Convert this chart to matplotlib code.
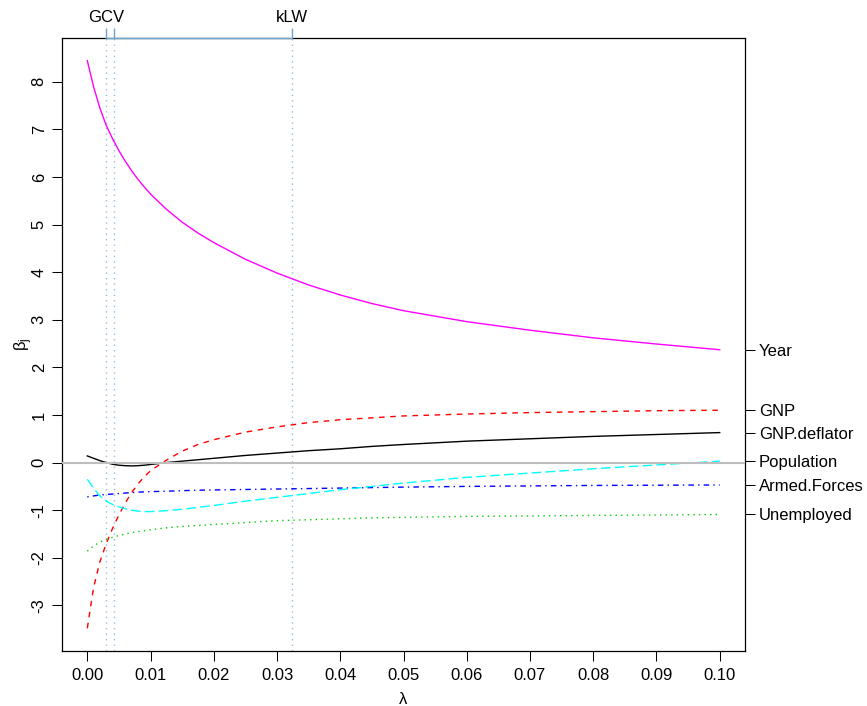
import matplotlib
matplotlib.use("Agg")
import matplotlib.pyplot as plt
import numpy as np

plt.rcParams['font.family'] = ['Liberation Sans', 'DejaVu Sans']
plt.rcParams['axes.unicode_minus'] = False
plt.rcParams['mathtext.fontset'] = 'custom'
plt.rcParams['mathtext.rm'] = 'Liberation Sans'
plt.rcParams['mathtext.it'] = 'Liberation Sans'

# ---- data ----
lam = [0.0, 0.001, 0.002, 0.003, 0.004, 0.005, 0.006, 0.007, 0.008, 0.009, 0.010,
       0.0125, 0.015, 0.0175, 0.02, 0.025, 0.03, 0.035, 0.04, 0.045, 0.05,
       0.06, 0.07, 0.08, 0.09, 0.10]

gnp_deflator = [0.14, 0.09, 0.04, 0.00, -0.035, -0.055, -0.065, -0.07, -0.065, -0.055, -0.04,
                0.00, 0.03, 0.06, 0.09, 0.15, 0.20, 0.25, 0.29, 0.34, 0.38,
                0.45, 0.50, 0.55, 0.59, 0.63]
gnp = [-3.48, -2.62, -2.08, -1.70, -1.38, -1.10, -0.85, -0.63, -0.45, -0.30, -0.17,
       0.05, 0.24, 0.38, 0.48, 0.64, 0.75, 0.84, 0.90, 0.94, 0.98,
       1.02, 1.05, 1.07, 1.09, 1.10]
unemployed = [-1.86, -1.75, -1.67, -1.61, -1.57, -1.53, -1.50, -1.47, -1.45, -1.43, -1.41,
              -1.37, -1.34, -1.32, -1.30, -1.26, -1.22, -1.20, -1.18, -1.16, -1.15,
              -1.13, -1.12, -1.11, -1.10, -1.09]
armed_forces = [-0.72, -0.70, -0.68, -0.67, -0.66, -0.65, -0.64, -0.63, -0.62, -0.615, -0.61,
                -0.60, -0.59, -0.58, -0.575, -0.565, -0.555, -0.545, -0.535, -0.525, -0.515,
                -0.50, -0.49, -0.48, -0.475, -0.47]
population = [-0.35, -0.54, -0.70, -0.81, -0.88, -0.93, -0.97, -1.00, -1.02, -1.03, -1.03,
              -1.01, -0.98, -0.94, -0.90, -0.81, -0.73, -0.65, -0.57, -0.50, -0.43,
              -0.31, -0.22, -0.13, -0.05, 0.03]
year = [8.44, 7.89, 7.44, 7.08, 6.80, 6.55, 6.33, 6.13, 5.95, 5.79, 5.64,
        5.32, 5.05, 4.82, 4.62, 4.27, 3.98, 3.73, 3.52, 3.34, 3.19,
        2.96, 2.78, 2.62, 2.49, 2.37]

series_names = ["GNP.deflator", "GNP", "Unemployed", "Armed.Forces", "Population", "Year"]
series_vals = [gnp_deflator, gnp, unemployed, armed_forces, population, year]
series_cols = ["#000000", "#FF0000", "#00CD00", "#0000FF", "#00FFFF", "#FF00FF"]
series_ls = ["-", (0, (4, 4)), (0, (1, 3)), (0, (1, 3, 4, 3)), (0, (7, 3)), "-"]

crit_lambda = [0.0030, 0.0042, 0.0323]
crit_labels = ["GCV", "", "kLW"]

x_ticks = [0.00, 0.01, 0.02, 0.03, 0.04, 0.05, 0.06, 0.07, 0.08, 0.09, 0.10]
y_ticks = [-3, -2, -1, 0, 1, 2, 3, 4, 5, 6, 7, 8]

# ---- figure ----
W, H = 867, 706
fig = plt.figure(figsize=(W / 100, H / 100), dpi=100)
L, R, T, B = 62, 745, 38, 651
ax = fig.add_axes([L / W, 1 - B / H, (R - L) / W, (B - T) / H])

fs = 12
for vals, col, ls in zip(series_vals, series_cols, series_ls):
    ax.plot(lam, vals, color=col, linestyle=ls, lw=1.0, zorder=3)

ax.axhline(0, color="#BEBEBE", lw=1.5, zorder=4)
for c in crit_lambda:
    ax.axvline(c, color="#8FBEDF", lw=1.0, linestyle=(0, (1, 3)), zorder=2)

allv = np.concatenate([np.asarray(v) for v in series_vals])
ymin, ymax = allv.min(), allv.max()
xr = max(lam) - min(lam)
yr = ymax - ymin
ax.set_xlim(min(lam) - 0.04 * xr, max(lam) + 0.04 * xr)
ax.set_ylim(ymin - 0.04 * yr, ymax + 0.04 * yr)

ax.set_xticks(x_ticks)
ax.set_xticklabels([f"{v:.2f}" for v in x_ticks])
ax.set_yticks(y_ticks)
ax.set_yticklabels([str(v) for v in y_ticks], rotation=90, va="center")
ax.tick_params(axis="both", direction="out", length=7, width=0.75, labelsize=fs)
ax.tick_params(axis="x", pad=5)
ax.tick_params(axis="y", pad=4)
for s in ax.spines.values():
    s.set_linewidth(0.9)

ax.set_xlabel("λ", fontsize=fs)
ax.xaxis.set_label_coords(0.5, -0.067)
ax.set_ylabel(r"$\mathregular{\beta_j}$", fontsize=fs)
ax.yaxis.set_label_coords(-0.040, 0.5)

# top axis with criteria
axt = ax.twiny()
axt.set_xlim(ax.get_xlim())
axt.set_xticks(crit_lambda)
axt.set_xticklabels(crit_labels)
for k in ["left", "right", "bottom"]:
    axt.spines[k].set_visible(False)
axt.spines["top"].set_bounds(min(crit_lambda), max(crit_lambda))
axt.spines["top"].set_color("#6FA3CB")
axt.spines["top"].set_linewidth(1.0)
axt.tick_params(axis="x", direction="out", length=7, width=1.0, color="#6FA3CB",
                labelsize=fs, pad=2)

# right axis with variable names at final values
axr = ax.twinx()
axr.set_ylim(ax.get_ylim())
axr.set_yticks([v[-1] for v in series_vals])
axr.set_yticklabels(series_names)
for k in ["left", "top", "bottom", "right"]:
    axr.spines[k].set_visible(False)
axr.tick_params(axis="y", direction="out", length=7, width=0.75, labelsize=fs, pad=3)

fig.savefig("out.png", dpi=100)
